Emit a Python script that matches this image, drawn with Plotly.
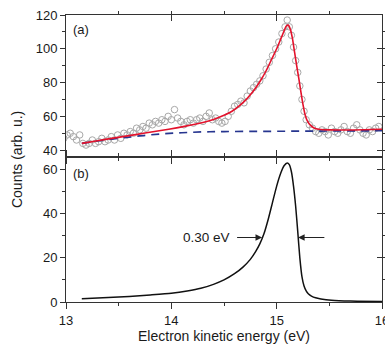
import plotly.graph_objects as go

# ---- data ----
scatter_x = [12.98, 13.01, 13.04, 13.07, 13.10, 13.13, 13.16, 13.19, 13.22, 13.25,
             13.28, 13.31, 13.34, 13.37, 13.40, 13.43, 13.46, 13.49, 13.52, 13.55,
             13.58, 13.61, 13.64, 13.67, 13.70, 13.73, 13.76, 13.79, 13.82, 13.85,
             13.88, 13.91, 13.94, 13.97, 14.00, 14.03, 14.06, 14.09, 14.12, 14.15,
             14.18, 14.21, 14.24, 14.27, 14.30, 14.33, 14.36, 14.39, 14.42, 14.45,
             14.48, 14.51, 14.54, 14.57, 14.60, 14.63, 14.66, 14.69, 14.72, 14.75,
             14.78, 14.81, 14.84, 14.87, 14.90, 14.93, 14.96, 14.99, 15.02, 15.05,
             15.08, 15.10, 15.12, 15.14, 15.16, 15.18, 15.20, 15.22, 15.24, 15.26,
             15.28, 15.31, 15.34, 15.37, 15.40, 15.43, 15.46, 15.49, 15.52, 15.55,
             15.58, 15.61, 15.64, 15.67, 15.70, 15.73, 15.76, 15.79, 15.82, 15.85,
             15.88, 15.91, 15.94, 15.97]
scatter_y = [47, 49, 50, 48, 46, 49, 44, 43, 44, 46,
             44, 45, 47, 45, 46, 48, 46, 49, 47, 50,
             49, 51, 50, 53, 52, 54, 53, 56, 55, 57,
             56, 58, 57, 60, 58, 64, 59, 57, 55, 57,
             58, 56, 58, 59, 57, 60, 62, 58, 59, 57,
             56, 57, 60, 63, 66, 67, 69, 68, 72, 75,
             77, 79, 81, 84, 88, 92, 96, 100, 104, 109,
             113, 117, 113, 108, 101, 93, 86, 78, 70, 63,
             58, 55, 53, 51, 50, 52, 51, 49, 53, 51,
             50, 52, 54, 51, 50, 53, 55, 52, 50, 49,
             52, 51, 53, 54]

fit_x = [13.15, 13.30, 13.45, 13.60, 13.75, 13.90, 14.05, 14.20, 14.30, 14.40,
         14.50, 14.58, 14.65, 14.70, 14.75, 14.80, 14.85, 14.90, 14.95, 15.00,
         15.04, 15.07, 15.09, 15.11, 15.13, 15.15, 15.17, 15.19, 15.21, 15.23,
         15.25, 15.27, 15.29, 15.32, 15.36, 15.42, 15.50, 15.70, 15.90, 16.00]
fit_y = [44.0, 45.6, 47.1, 48.6, 50.1, 51.6, 53.2, 55.0, 56.4, 58.2,
         60.6, 63.2, 66.5, 69.3, 72.8, 76.8, 81.5, 87.0, 93.5, 100.0,
         106.0, 110.5, 113.3, 114.0, 111.5, 106.0, 98.0, 90.0, 82.5, 74.5,
         67.0, 61.0, 57.5, 54.8, 53.0, 52.2, 52.0, 51.9, 52.2, 52.4]

base_x = [13.15, 13.30, 13.50, 13.70, 13.90, 14.10, 14.30, 14.50, 14.80, 15.10,
          15.40, 15.70, 16.00]
base_y = [44.0, 45.4, 47.0, 48.4, 49.6, 50.3, 50.8, 51.0, 51.1, 51.2,
          51.3, 51.4, 51.5]

line_x = [13.15, 13.40, 13.60, 13.80, 14.00, 14.15, 14.28, 14.40, 14.50, 14.60,
          14.68, 14.75, 14.80, 14.84, 14.88, 14.92, 14.96, 15.00, 15.04, 15.07,
          15.10, 15.12, 15.14, 15.16, 15.18, 15.20, 15.22, 15.24, 15.26, 15.28,
          15.30, 15.33, 15.37, 15.42, 15.52, 15.70, 16.00]
line_y = [1.5, 2.0, 2.5, 3.2, 4.0, 5.0, 6.2, 8.0, 10.0, 12.8,
          15.8, 19.3, 22.8, 26.3, 31.0, 37.5, 45.0, 52.5, 58.5, 61.7,
          63.0, 62.2, 59.0, 52.5, 43.5, 32.0, 20.0, 11.5, 7.2, 5.0,
          3.7, 2.7, 1.9, 1.4, 0.8, 0.4, 0.2]

x_ticks = [13, 14, 15, 16]
fwhm_label = "0.30 eV"
fwhm_left = 14.862
fwhm_right = 15.203
fwhm_level = 29.2

FONT = "Liberation Sans, Arial, sans-serif"
TXT = "#1a1a1a"
AX = "#333333"

fig = go.Figure()

fig.add_trace(go.Scatter(x=scatter_x, y=scatter_y, mode="markers", xaxis="x2", yaxis="y",
                         marker=dict(symbol="circle-open", size=6.5, color="#a8a8a8",
                                     line=dict(width=1, color="#a8a8a8")),
                         showlegend=False, hoverinfo="skip"))
fig.add_trace(go.Scatter(x=base_x, y=base_y, mode="lines", xaxis="x2", yaxis="y",
                         line=dict(color="#26358f", width=1.7, dash="8px,6px", shape="spline"),
                         showlegend=False, hoverinfo="skip"))
fig.add_trace(go.Scatter(x=fit_x, y=fit_y, mode="lines", xaxis="x2", yaxis="y",
                         line=dict(color="#e3122c", width=1.6, shape="spline", smoothing=0.6),
                         showlegend=False, hoverinfo="skip"))
fig.add_trace(go.Scatter(x=line_x, y=line_y, mode="lines", xaxis="x", yaxis="y2",
                         line=dict(color="#111111", width=1.5, shape="spline", smoothing=0.6),
                         showlegend=False, hoverinfo="skip"))
# dummy traces so overlay axes exist
for xa, ya in [("x3", "y"), ("x4", "y2"), ("x2", "y3"), ("x", "y4")]:
    fig.add_trace(go.Scatter(x=[None], y=[None], xaxis=xa, yaxis=ya, showlegend=False,
                             hoverinfo="skip"))

split = 0.5047
xr = [13, 16]
yr_a = [35.85, 120]
yr_b = [0, 65.6]

common_x = dict(range=xr, tickvals=x_ticks, showline=True, linecolor=AX, linewidth=1,
                tickcolor=AX, ticklen=6, tickwidth=1, showgrid=False, zeroline=False,
                minor=dict(dtick=0.5, tick0=13, ticklen=3, tickcolor=AX, showgrid=False))
common_y = dict(showline=True, linecolor=AX, linewidth=1, tickcolor=AX, ticklen=5,
                tickwidth=1, showgrid=False, zeroline=False, dtick=20,
                minor=dict(dtick=10, ticklen=3, tickcolor=AX, showgrid=False))

fig.update_layout(
    width=385, height=346, autosize=False,
    margin=dict(l=66, r=3, t=15, b=44, autoexpand=False),
    paper_bgcolor="white", plot_bgcolor="white",
    font=dict(family=FONT, size=13, color=TXT),
    xaxis=dict(**common_x, anchor="y2", domain=[0, 1], ticks="outside",
               ticklabeloverflow="allow",
               title=dict(text="Electron kinetic energy (eV)", font=dict(size=14), standoff=4)),
    xaxis2=dict(**common_x, anchor="y", domain=[0, 1], ticks="outside", showticklabels=False),
    xaxis3=dict(**common_x, anchor="y", overlaying="x2", side="top", ticks="inside",
                showticklabels=False),
    xaxis4=dict(**common_x, anchor="y2", overlaying="x", side="top", ticks="outside",
                showticklabels=False),
    yaxis=dict(**common_y, range=yr_a, domain=[split, 1], anchor="x2", ticks="outside",
               tick0=0),
    yaxis3=dict(**common_y, range=yr_a, anchor="x2", overlaying="y", side="right",
                ticks="inside", showticklabels=False, tick0=0),
    yaxis2=dict(**common_y, range=yr_b, domain=[0, split], anchor="x", ticks="outside",
                tick0=0),
    yaxis4=dict(**common_y, range=yr_b, anchor="x", overlaying="y2", side="right",
                ticks="inside", showticklabels=False, tick0=0),
)

# shared y title
fig.add_annotation(text="Counts (arb. u.)", xref="paper", yref="paper", x=-0.155, y=split - 0.01,
                   textangle=-90, showarrow=False, font=dict(size=14, color=TXT),
                   xanchor="center", yanchor="middle")
# panel labels
fig.add_annotation(text="(a)", xref="x2", yref="y", x=13.05, y=111.7, showarrow=False,
                   xanchor="left", yanchor="middle", font=dict(size=13, color=TXT))
fig.add_annotation(text="(b)", xref="x", yref="y2", x=13.05, y=58.3, showarrow=False,
                   xanchor="left", yanchor="middle", font=dict(size=13, color=TXT))
# FWHM arrows
fig.add_annotation(x=fwhm_left, y=fwhm_level, ax=14.61, ay=fwhm_level, xref="x", yref="y2",
                   axref="x", ayref="y2", showarrow=True, arrowhead=2, arrowsize=1.2,
                   arrowwidth=1.1, arrowcolor="#222222", text="")
fig.add_annotation(x=fwhm_right, y=fwhm_level, ax=15.467, ay=fwhm_level, xref="x", yref="y2",
                   axref="x", ayref="y2", showarrow=True, arrowhead=2, arrowsize=1.2,
                   arrowwidth=1.1, arrowcolor="#222222", text="")
fig.add_annotation(text=fwhm_label, x=14.338, y=fwhm_level, xref="x", yref="y2",
                   showarrow=False, xanchor="center", yanchor="middle",
                   font=dict(size=13.5, color=TXT))

fig.write_html("out.html", config={"displayModeBar": False},
               post_script="document.body.style.margin='0';document.body.style.overflow='hidden';")
